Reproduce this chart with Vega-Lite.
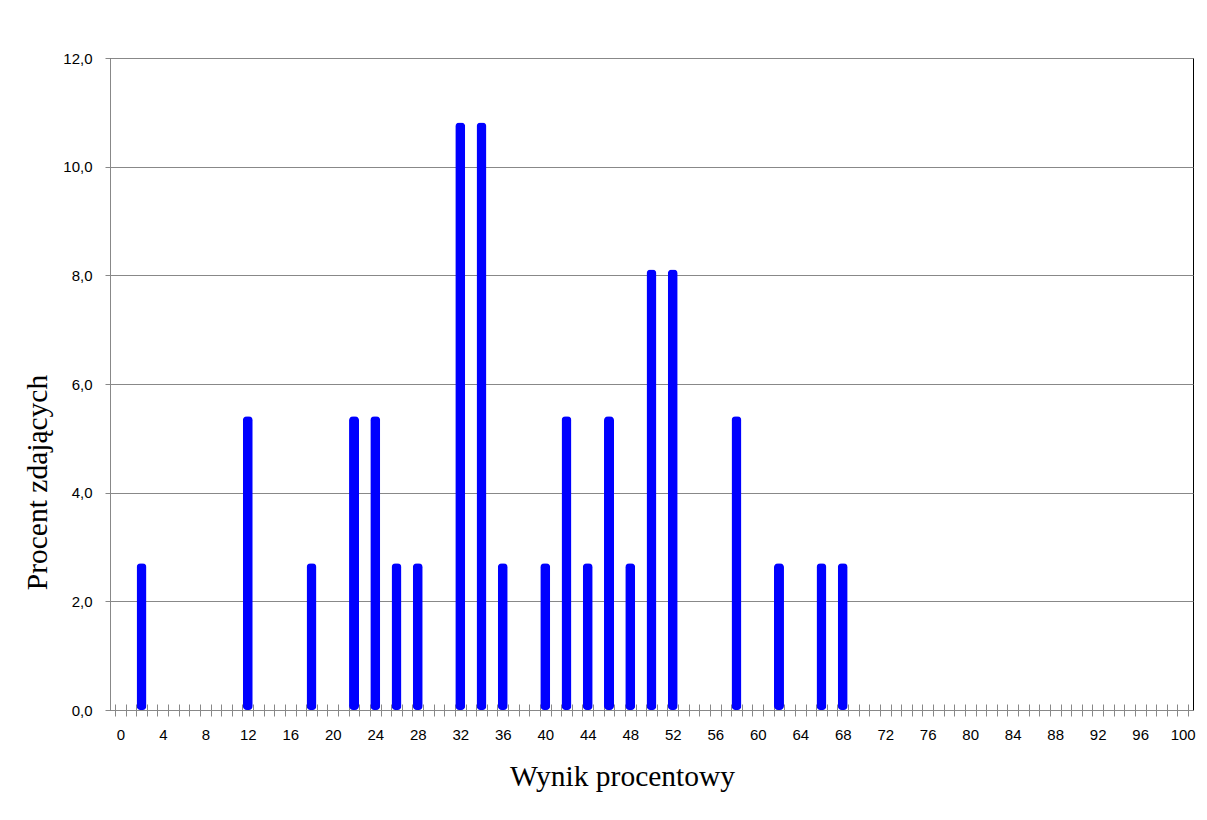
{
  "$schema": "https://vega.github.io/schema/vega-lite/v6.json",
  "width": 1083,
  "height": 652,
  "autosize": {"type": "none"},
  "padding": {"left": 110, "top": 58, "right": 14, "bottom": 110},
  "background": "white",
  "config": {
    "view": {"stroke": "#000000", "strokeWidth": 1},
    "axis": {"labelFont": "Liberation Sans", "labelFontSize": 15, "labelColor": "#000000", "titleFont": "Liberation Serif", "titleFontWeight": "normal", "titleColor": "#000000", "titleFontSize": 29.5}
  },
  "data": {
    "values": [
      {"score": 2, "pct": 2.7027},
      {"score": 12, "pct": 5.4054},
      {"score": 18, "pct": 2.7027},
      {"score": 22, "pct": 5.4054},
      {"score": 24, "pct": 5.4054},
      {"score": 26, "pct": 2.7027},
      {"score": 28, "pct": 2.7027},
      {"score": 32, "pct": 10.8108},
      {"score": 34, "pct": 10.8108},
      {"score": 36, "pct": 2.7027},
      {"score": 40, "pct": 2.7027},
      {"score": 42, "pct": 5.4054},
      {"score": 44, "pct": 2.7027},
      {"score": 46, "pct": 5.4054},
      {"score": 48, "pct": 2.7027},
      {"score": 50, "pct": 8.1081},
      {"score": 52, "pct": 8.1081},
      {"score": 58, "pct": 5.4054},
      {"score": 62, "pct": 2.7027},
      {"score": 66, "pct": 2.7027},
      {"score": 68, "pct": 2.7027}
    ]
  },
  "resolve": {"axis": {"x": "independent"}},
  "layer": [
    {
      "mark": {"type": "bar", "color": "#0000FF", "size": 10, "cornerRadius": 4},
      "encoding": {
        "x": {
          "field": "score", "type": "quantitative",
          "scale": {"domain": [-0.5, 100.5], "nice": false, "zero": false},
          "axis": {
            "orient": "bottom",
            "values": [0,4,8,12,16,20,24,28,32,36,40,44,48,52,56,60,64,68,72,76,80,84,88,92,96,100],
            "ticks": false, "grid": false, "domain": true, "domainColor": "#888888",
            "labelPadding": 17, "labelFlush": false,
            "title": "Wynik procentowy", "titlePadding": 20, "titleX": 512
          }
        },
        "y": {
          "field": "pct", "type": "quantitative",
          "scale": {"domain": [0, 12], "nice": false},
          "axis": {
            "values": [0,2,4,6,8,10,12],
            "labelExpr": "replace(format(datum.value, '.1f'), '.', ',')",
            "grid": true, "gridColor": "#888888", "gridOpacity": 1,
            "domainColor": "#888888", "tickColor": "#888888", "tickSize": 5,
            "labelPadding": 13,
            "title": "Procent zdających", "titleX": -58, "titleY": 424
          }
        }
      }
    },
    {
      "mark": {"type": "rule", "opacity": 0},
      "encoding": {
        "x": {
          "field": "score", "type": "quantitative",
          "axis": {
            "orient": "bottom",
            "values": [-0.5,0.5,1.5,2.5,3.5,4.5,5.5,6.5,7.5,8.5,9.5,10.5,11.5,12.5,13.5,14.5,15.5,16.5,17.5,18.5,19.5,20.5,21.5,22.5,23.5,24.5,25.5,26.5,27.5,28.5,29.5,30.5,31.5,32.5,33.5,34.5,35.5,36.5,37.5,38.5,39.5,40.5,41.5,42.5,43.5,44.5,45.5,46.5,47.5,48.5,49.5,50.5,51.5,52.5,53.5,54.5,55.5,56.5,57.5,58.5,59.5,60.5,61.5,62.5,63.5,64.5,65.5,66.5,67.5,68.5,69.5,70.5,71.5,72.5,73.5,74.5,75.5,76.5,77.5,78.5,79.5,80.5,81.5,82.5,83.5,84.5,85.5,86.5,87.5,88.5,89.5,90.5,91.5,92.5,93.5,94.5,95.5,96.5,97.5,98.5,99.5,100.5],
            "labels": false, "domain": false, "grid": false,
            "ticks": true, "tickSize": 12, "tickColor": "#888888",
            "offset": -6, "title": null
          }
        }
      }
    }
  ]
}
